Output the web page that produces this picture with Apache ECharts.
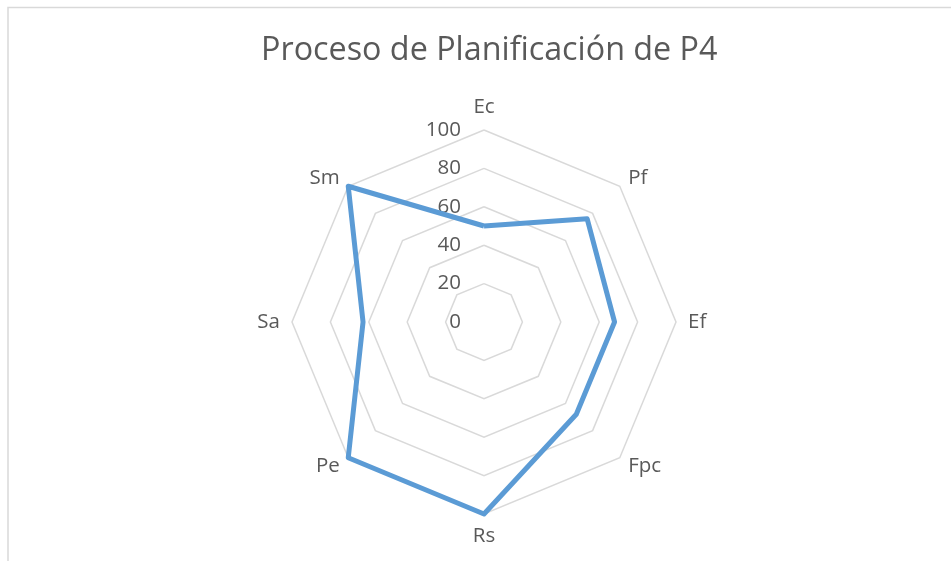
<!DOCTYPE html>
<html>
<head>
<meta charset="utf-8">
<script src="https://cdn.jsdelivr.net/npm/echarts@6/dist/echarts.min.js"></script>
<style>
html,body{margin:0;padding:0;background:#fff;}
#chart{width:951px;height:561px;}
</style>
</head>
<body>
<div id="chart"></div>
<script>
var title = 'Proceso de Planificación de P4';
var categories = ['Ec', 'Pf', 'Ef', 'Fpc', 'Rs', 'Pe', 'Sa', 'Sm'];
var values = [50, 76, 68, 68, 100, 100, 63, 100];
var axisMin = 0;
var axisMax = 100;
var tickStep = 20;

var textColor = '#595959';
var fontFamily = '"Open Sans", sans-serif';

// ECharts radar runs counter-clockwise; the reference runs clockwise from the top.
var order = [0];
for (var k = categories.length - 1; k >= 1; k--) order.push(k);

var indicator = order.map(function (i, pos) {
  var ind = { name: categories[i], min: axisMin, max: axisMax };
  if (pos === 0) {
    ind.axisLabel = { show: true };
  }
  return ind;
});
var seriesValues = order.map(function (i) { return values[i]; });

var chart = echarts.init(document.getElementById('chart'));
chart.setOption({
  backgroundColor: '#ffffff',
  animation: false,
  title: {
    text: title,
    left: 256,
    top: 30,
    textStyle: { color: textColor, fontSize: 32.3, fontWeight: 'normal', fontFamily: fontFamily }
  },
  graphic: [{
    type: 'rect',
    shape: { x: 8, y: 7.5, width: 1000, height: 600 },
    style: { fill: 'none', stroke: '#d9d9d9', lineWidth: 1.5 },
    silent: true
  }],
  radar: {
    center: [484, 322],
    radius: 192,
    startAngle: 90,
    shape: 'polygon',
    splitNumber: (axisMax - axisMin) / tickStep,
    indicator: indicator,
    axisName: { color: textColor, fontSize: 20.5, fontFamily: fontFamily },
    nameGap: 12,
    axisLine: { show: false },
    axisTick: { show: false },
    axisLabel: {
      show: false,
      color: textColor,
      fontSize: 20.5,
      fontFamily: fontFamily,
      margin: 23
    },
    splitLine: { lineStyle: { color: '#d9d9d9', width: 1.5 } },
    splitArea: { show: false }
  },
  series: [{
    type: 'radar',
    symbol: 'none',
    lineStyle: { color: '#5b9bd5', width: 5, join: 'round' },
    data: [{ value: seriesValues, name: 'P4' }]
  }]
});
</script>
</body>
</html>
